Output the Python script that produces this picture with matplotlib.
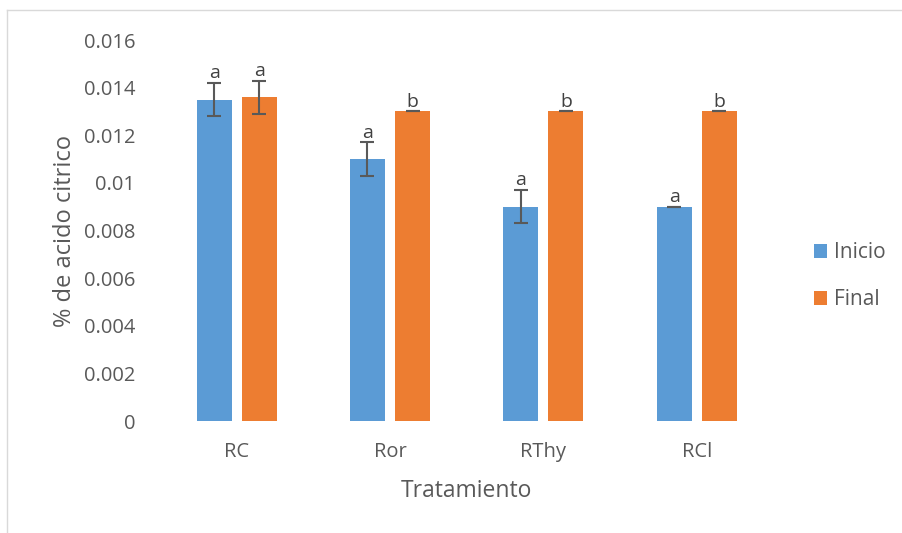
import numpy as np
import matplotlib
matplotlib.use("Agg")
import matplotlib.pyplot as plt
from matplotlib.lines import Line2D

# datos de acidez titulable
tratamientos = ["RC", "Ror", "RThy", "RCl"]
inicio = [0.0135, 0.011, 0.009, 0.009]
final = [0.0136, 0.013, 0.013, 0.013]
err_inicio = [0.0007, 0.0007, 0.0007, 0.0]
err_final = [0.0007, 0.0, 0.0, 0.0]
letras_inicio = ["a", "a", "a", "a"]
letras_final = ["a", "b", "b", "b"]

plt.rcParams['font.family'] = ['Open Sans', 'DejaVu Sans']
gris = "#595959"

fig = plt.figure(figsize=(9.02, 5.33), dpi=100)
ax = fig.add_axes([0.1774, 0.2101, 0.680, 0.7148])

x = np.arange(len(tratamientos))
w = 0.229
off = 0.147

ax.bar(x - off, inicio, w, color="#5B9BD5", label="Inicio",
       yerr=err_inicio, error_kw=dict(ecolor=gris, elinewidth=1.5, capsize=5, capthick=1.5))
ax.bar(x + off, final, w, color="#ED7D31", label="Final",
       yerr=err_final, error_kw=dict(ecolor=gris, elinewidth=1.5, capsize=5, capthick=1.5))

# letras de significancia sobre cada barra
for xi, v, e, l in zip(x - off, inicio, err_inicio, letras_inicio):
    ax.annotate(l, (xi, v + e), xytext=(0, 0.5), textcoords="offset points",
                ha="center", va="bottom", fontsize=14, color="#404040")
for xi, v, e, l in zip(x + off, final, err_final, letras_final):
    ax.annotate(l, (xi, v + e), xytext=(0, 0.5), textcoords="offset points",
                ha="center", va="bottom", fontsize=14, color="#404040")

ax.set_xlim(-0.5, len(tratamientos) - 0.5)
ax.set_ylim(0, 0.016)
ax.set_yticks(np.arange(0, 0.0161, 0.002))
ax.set_yticklabels(["0", "0.002", "0.004", "0.006", "0.008", "0.01", "0.012", "0.014", "0.016"])
ax.set_xticks(x)
ax.set_xticklabels(tratamientos)
ax.tick_params(axis="both", length=0, labelsize=14.5, colors=gris)
ax.tick_params(axis="x", pad=15)
ax.tick_params(axis="y", pad=18)
for s in ax.spines.values():
    s.set_visible(False)

ax.set_xlabel("Tratamiento", fontsize=16.5, color=gris, labelpad=12)
ax.set_ylabel("% de acido citrico", fontsize=17, color=gris, labelpad=5)

leg = ax.legend(loc="center left", bbox_to_anchor=(795 / 902, 1 - 276 / 533),
                bbox_transform=fig.transFigure, frameon=False,
                fontsize=15, labelcolor=gris, handlelength=0.65, handleheight=0.65,
                labelspacing=1.25, handletextpad=0.3)

# marco del gráfico
fig.add_artist(Line2D([7 / 902, 7 / 902], [0, 1 - 10 / 533], color="#D9D9D9", lw=1))
fig.add_artist(Line2D([7 / 902, 1], [1 - 10 / 533, 1 - 10 / 533], color="#D9D9D9", lw=1))

fig.savefig("out.png", dpi=100)
